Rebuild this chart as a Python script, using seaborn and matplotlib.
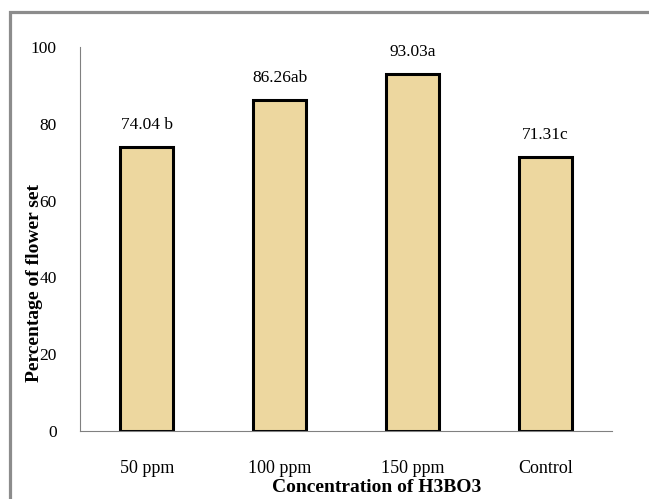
import matplotlib
matplotlib.use("Agg")
import matplotlib.pyplot as plt
from matplotlib.lines import Line2D
import seaborn as sns
import pandas as pd

# Flower set under boric acid treatments
categories = ["50 ppm", "100 ppm", "150 ppm", "Control"]
flower_set = [74.04, 86.26, 93.03, 71.31]
letters = ["b", "ab", "a", "c"]
value_labels = ["74.04 b", "86.26ab", "93.03a", "71.31c"]
y_ticks = [0, 20, 40, 60, 80, 100]

df = pd.DataFrame({"treatment": categories, "flower_set": flower_set})

sns.set_theme(style="white")
plt.rcParams["font.family"] = ["Liberation Serif", "DejaVu Serif"]
plt.rcParams["text.color"] = "black"
plt.rcParams["xtick.labelcolor"] = "black"
plt.rcParams["ytick.labelcolor"] = "black"

fig = plt.figure(figsize=(6.49, 4.99), dpi=100)
ax = fig.add_axes([0.124, 0.1363, 0.819, 0.7697])

sns.barplot(data=df, x="treatment", y="flower_set", width=0.4,
            color="#EDD79F", saturation=1, edgecolor="black", linewidth=2.2,
            ax=ax)

ax.set_ylim(0, 100)
ax.set_xlim(-0.5, len(categories) - 0.5)
ax.set_yticks(y_ticks)
ax.set_yticklabels([str(t) for t in y_ticks], fontsize=12.5)

# category labels without tick marks; small marks at group boundaries
ax.tick_params(axis="x", which="major", length=0, pad=21, labelsize=13)
ax.set_xticks([i + 0.5 for i in range(len(categories))], minor=True)
ax.tick_params(axis="x", which="minor", direction="in", length=3,
               color="#808080", width=0.8)
ax.tick_params(axis="y", direction="in", length=5, color="#808080",
               width=0.8, pad=17)

for side in ["top", "right"]:
    ax.spines[side].set_visible(False)
for side in ["left", "bottom"]:
    ax.spines[side].set_color("#808080")
    ax.spines[side].set_linewidth(0.8)

for i, (v, lab) in enumerate(zip(flower_set, value_labels)):
    ax.annotate(lab, (i, v), xytext=(0, 10), textcoords="offset points",
                ha="center", va="bottom", fontsize=12.5, color="black")

ax.set_xlabel("")
ax.set_ylabel("")
fig.text(377 / 649, 1 - 487 / 499, "Concentration of H3BO3",
         ha="center", va="center", fontsize=14, fontweight="bold")
fig.text(35 / 649, 1 - 283 / 499, "Percentage of flower set",
         ha="center", va="center", rotation=90, fontsize=14,
         fontweight="bold")

# grey outer frame on the left and top
fx = 9.5 / 649
fy = 1 - 11.5 / 499
fig.add_artist(Line2D([fx, fx, 1.0], [0.0, fy, fy], color="#8c8c8c",
                      linewidth=2.3, transform=fig.transFigure,
                      solid_joinstyle="miter"))

fig.savefig("out.png", dpi=100)
